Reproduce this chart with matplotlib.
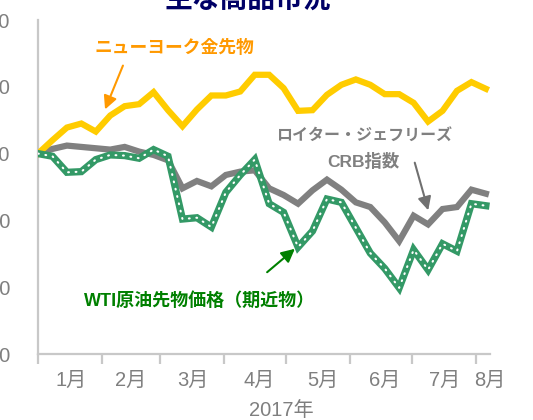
import matplotlib
matplotlib.use('Agg')
import matplotlib.pyplot as plt
import matplotlib.dates as mdates
import pandas as pd

plt.rcParams['font.family'] = ['Liberation Sans', 'Noto Sans CJK JP', 'DejaVu Sans']

# weekly index, 2017 (start = 100)
weeks = pd.date_range('2017-01-01', periods=32, freq='7D')

gold = [100.0, 102.0, 103.9, 104.5, 103.3, 105.7, 107.1, 107.4, 109.2, 106.5,
        104.1, 106.6, 108.7, 108.7, 109.3, 111.8, 111.8, 109.8, 106.4, 106.5,
        108.8, 110.3, 111.1, 110.3, 108.9, 108.9, 107.6, 104.8, 106.4, 109.4,
        110.7, 109.7]
crb = [100.0, 100.7, 101.2, 101.0, 100.8, 100.6, 101.0, 100.3, 99.8, 99.0,
       94.8, 95.9, 95.1, 96.8, 97.3, 97.5, 94.8, 93.8, 92.5, 94.5,
       96.1, 94.6, 92.7, 92.0, 89.7, 86.9, 90.7, 89.4, 91.7, 92.0,
       94.6, 94.0]
wti = [100.0, 99.6, 97.2, 97.3, 99.1, 99.8, 99.7, 99.3, 100.6, 99.6,
       90.2, 90.4, 89.0, 94.2, 96.8, 99.1, 92.5, 91.2, 86.0, 88.4,
       93.2, 92.7, 88.9, 85.1, 82.8, 79.9, 85.6, 82.6, 86.5, 85.4,
       92.5, 92.2]

month_labels = ['1月', '2月', '3月', '4月', '5月', '6月', '7月', '8月']
label_dates = pd.to_datetime(['2017-01-17', '2017-02-15', '2017-03-17', '2017-04-18',
                              '2017-05-19', '2017-06-18', '2017-07-17', '2017-08-08'])
yticks = [70, 80, 90, 100, 110, 120]

W, H = 533, 420
def fp(x, y):
    return (x / W, 1 - y / H)

fig = plt.figure(figsize=(W / 100, H / 100), dpi=100)
ax = fig.add_axes([38 / W, 1 - 354 / H, (490 - 38) / W, (354 - 20) / H])

ax.plot(weeks, gold, color='#FFCC00', lw=4.5, solid_joinstyle='miter', zorder=3)
ax.plot(weeks, crb, color='#808080', lw=4.5, solid_joinstyle='miter', zorder=2)
ax.plot(weeks, wti, color='#339966', lw=5.2, solid_joinstyle='miter', zorder=4)
ax.plot(weeks, wti, color='white', lw=1.5, ls=(0, (0.4, 3.2)), dash_capstyle='round', zorder=5)

ax.set_xlim(pd.Timestamp('2017-01-01'), pd.Timestamp('2017-08-06'))
ax.set_ylim(70, 120)

for s in ['top', 'right']:
    ax.spines[s].set_visible(False)
for s in ['left', 'bottom']:
    ax.spines[s].set_color('#C8C8C8')
    ax.spines[s].set_linewidth(1.6)

ax.xaxis.set_major_locator(mdates.MonthLocator())
ax.xaxis.set_major_formatter(plt.NullFormatter())
ax.set_xticks(label_dates, minor=True)
ax.set_xticklabels(month_labels, minor=True)
ax.tick_params(axis='x', which='major', length=7, width=1.6, color='#C8C8C8')
ax.tick_params(axis='x', which='minor', length=0, pad=12, labelsize=14.5, labelcolor='#7F7F7F')

ax.set_yticks(yticks)
ax.set_yticklabels([str(v) for v in yticks])
ax.tick_params(axis='y', length=0, pad=20, labelsize=14.5, labelcolor='#7F7F7F')

fig.text(*fp(281, 410), '2017年', ha='center', va='center', fontsize=14.5, color='#7F7F7F')
fig.text(*fp(248, 0), '主な商品市況', ha='center', va='center', fontsize=20,
         fontweight='bold', color='#000066')

# gold label
ax.annotate('', xy=fp(104, 112), xytext=fp(124, 63), xycoords='figure fraction',
            textcoords='figure fraction',
            arrowprops=dict(arrowstyle='-|>', color='#FF9900', lw=1.5, mutation_scale=20))
fig.text(*fp(174, 48), 'ニューヨーク金先物', ha='center', va='center', fontsize=12.8,
         fontweight='bold', color='#FF9900')

# CRB label
ax.annotate('', xy=fp(429, 213), xytext=fp(414, 160), xycoords='figure fraction',
            textcoords='figure fraction',
            arrowprops=dict(arrowstyle='-|>', color='#707070', lw=1.5, mutation_scale=20))
fig.text(*fp(364, 135), 'ロイター・ジェフリーズ', ha='center', va='center', fontsize=11.5,
         fontweight='bold', color='#808080')
fig.text(*fp(363, 161), 'CRB指数', ha='center', va='center', fontsize=12.5,
         fontweight='bold', color='#808080')

# WTI label
ax.annotate('', xy=fp(297, 247), xytext=fp(265, 274), xycoords='figure fraction',
            textcoords='figure fraction',
            arrowprops=dict(arrowstyle='-|>', color='#008000', lw=1.5, mutation_scale=20))
fig.text(*fp(200, 301), 'WTI原油先物価格（期近物）', ha='center', va='center', fontsize=13,
         fontweight='bold', color='#008000')

fig.savefig('out.png', dpi=100)
